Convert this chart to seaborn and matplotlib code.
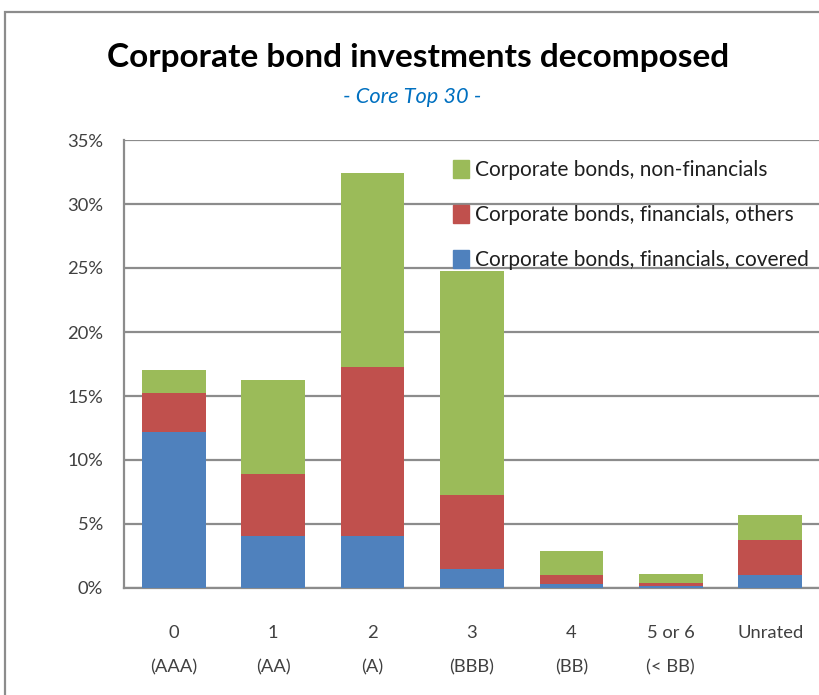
import matplotlib
matplotlib.use("Agg")
import matplotlib.pyplot as plt
import matplotlib.patches as mpatches
import seaborn as sns
import pandas as pd
import numpy as np

categories = ["0\n(AAA)", "1\n(AA)", "2\n(A)", "3\n(BBB)", "4\n(BB)", "5 or 6\n(< BB)", "Unrated\n "]
covered = [12.2, 4.1, 4.1, 1.5, 0.3, 0.15, 1.0]
others = [3.0, 4.8, 13.2, 5.8, 0.7, 0.25, 2.75]
nonfin = [1.8, 7.35, 15.1, 17.5, 1.9, 0.7, 1.95]
series_names = ["Corporate bonds, non-financials",
                "Corporate bonds, financials, others",
                "Corporate bonds, financials, covered"]
title = "Corporate bond investments decomposed"
subtitle = "- Core Top 30 -"
colors = {"covered": "#4F81BD", "others": "#C0504D", "nonfin": "#9BBB59"}

sns.set_theme(style="white")
FONT = ["Lato", "DejaVu Sans"]
plt.rcParams["font.family"] = FONT

df = pd.DataFrame({"cat": categories,
                   "covered": covered,
                   "others": others,
                   "nonfin": nonfin})
df["lvl1"] = df["covered"]
df["lvl2"] = df["covered"] + df["others"]
df["lvl3"] = df["lvl2"] + df["nonfin"]

fig = plt.figure(figsize=(8.19, 6.95), dpi=100)
renderer = fig.canvas.get_renderer()


def fit_size(s, target_px, **kw):
    t = fig.text(0, 0, s, fontsize=20, **kw)
    w = t.get_window_extent(renderer).width
    t.remove()
    return 20 * target_px / w


ax = fig.add_axes([124 / 819, 1 - 588 / 695, 696 / 819, (588 - 140) / 695])

for col, c in [("lvl3", colors["nonfin"]), ("lvl2", colors["others"]), ("lvl1", colors["covered"])]:
    sns.barplot(data=df, x="cat", y=col, color=c, width=0.64, ax=ax,
                saturation=1, linewidth=0, zorder=3)

tick_fs = fit_size("Unrated", 75)
ytick_fs = fit_size("35%", 36)
tick_fs = min(tick_fs, ytick_fs)
ax.set_ylim(0, 35)
ax.set_yticks(np.arange(0, 36, 5))
ax.set_yticklabels([f"{v}%" for v in range(0, 36, 5)], fontsize=tick_fs, color="#404040")
ax.set_xticks(range(len(categories)))
ax.set_xticklabels(categories, fontsize=tick_fs, color="#404040", linespacing=2.35)
ax.tick_params(axis="x", pad=27, length=0)
ax.tick_params(axis="y", pad=15, length=0)
ax.set_xlabel("")
ax.set_ylabel("")
ax.grid(axis="y", color="#8c8c8c", linewidth=1.6, zorder=0)
ax.set_axisbelow(True)
for s in ["top", "right"]:
    ax.spines[s].set_visible(False)
ax.spines["left"].set_color("#8c8c8c")
ax.spines["left"].set_linewidth(1.6)
ax.spines["bottom"].set_color("#8c8c8c")
ax.spines["bottom"].set_linewidth(1.6)
ax.set_xlim(-0.5, 6.5)

leg_fs = fit_size(series_names[2], 334)
handles = [mpatches.Patch(color=colors["nonfin"], label=series_names[0]),
           mpatches.Patch(color=colors["others"], label=series_names[1]),
           mpatches.Patch(color=colors["covered"], label=series_names[2])]
leg = ax.legend(handles=handles, loc="upper left", bbox_to_anchor=((453 - 124) / 696, (588 - 160) / 448),
                frameon=False, fontsize=leg_fs, handlelength=0.75, handleheight=0.95,
                handletextpad=0.3, labelspacing=1.2, borderaxespad=0, borderpad=0)
for t in leg.get_texts():
    t.set_color("#1f1f1f")

title_fs = fit_size(title, 623, fontweight="bold")
fig.text(418 / 819, 1 - 57 / 695, title,
         ha="center", va="center", fontsize=title_fs, fontweight="bold", color="black")
sub_fs = fit_size(subtitle, 138, style="italic")
fig.text(412 / 819, 1 - 97 / 695, subtitle, ha="center", va="center",
         fontsize=sub_fs, style="italic", color="#0070C0")

border = mpatches.Rectangle((5 / 819, -0.01), 1.2, 1 - 12 / 695 + 0.01,
                            transform=fig.transFigure, fill=False,
                            edgecolor="#8c8c8c", linewidth=1.6)
fig.patches.append(border)

fig.savefig("out.png", dpi=100)
